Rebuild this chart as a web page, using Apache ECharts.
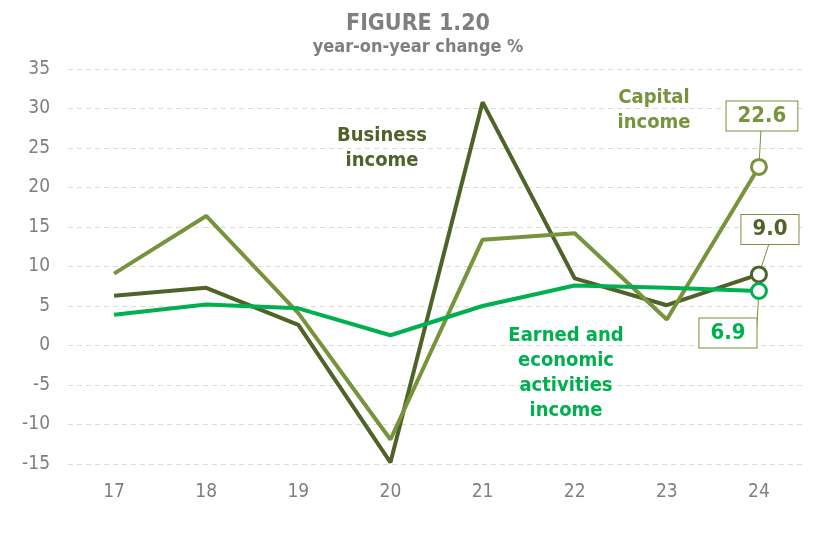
<!DOCTYPE html>
<html>
<head>
<meta charset="utf-8">
<script src="https://cdn.jsdelivr.net/npm/echarts@6/dist/echarts.min.js"></script>
<style>html,body{margin:0;padding:0;background:#fff;}#c{width:836px;height:540px;}</style>
</head>
<body>
<div id="c"></div>
<script>
var categories = ['17','18','19','20','21','22','23','24'];
var business = [6.3, 7.3, 2.6, -14.8, 30.8, 8.5, 5.1, 9.0];
var capital = [9.1, 16.4, 4.1, -11.9, 13.4, 14.2, 3.3, 22.6];
var earned = [3.9, 5.2, 4.7, 1.3, 5.0, 7.6, 7.3, 6.9];
var yTicks = [-15, -10, -5, 0, 5, 10, 15, 20, 25, 30, 35];

var FONT = "'DejaVu Sans Condensed', 'DejaVu Sans', sans-serif";
var cBus = '#4f6228', cCap = '#77933c', cEarn = '#00b050', gray = '#7f7f7f';

function lastLabel(arr, color, dx, dy) {
  return arr.map(function (v, i) {
    if (i !== arr.length - 1) return v;
    return {
      value: v,
      symbol: 'circle',
      symbolSize: 15,
      itemStyle: { color: '#fff', borderColor: color, borderWidth: 3 },
      label: {
        show: true,
        formatter: function (p) { return p.value.toFixed(1); },
        fontFamily: FONT, fontWeight: 'bold', fontSize: 22, color: color,
        backgroundColor: '#fff', borderColor: cCap, borderWidth: 1,
        padding: [4, 11, 3, 11], position: 'inside', offset: [dx, dy]
      },
      labelLine: { show: true, lineStyle: { color: cCap, width: 1 } }
    };
  });
}

function mkSeries(name, arr, color, dx, dy) {
  return {
    name: name, type: 'line', data: lastLabel(arr, color, dx, dy),
    symbol: 'none', showSymbol: true,
    lineStyle: { color: color, width: 4 },
    itemStyle: { color: color },
    animation: false, z: 3
  };
}

function note(text, cx, top, color) {
  return { type: 'text', x: cx, y: top, z: 10,
    style: { text: text, fontFamily: FONT, fontWeight: 'bold', fontSize: 20, lineHeight: 25,
             fill: color, textAlign: 'center', textVerticalAlign: 'top' } };
}

var chart = echarts.init(document.getElementById('c'));
chart.setOption({
  animation: false,
  title: {
    text: 'FIGURE 1.20', subtext: 'year-on-year change %',
    left: 'center', top: 8, itemGap: 2,
    textStyle: { fontFamily: FONT, fontWeight: 'bold', fontSize: 23, color: gray },
    subtextStyle: { fontFamily: FONT, fontWeight: 'bold', fontSize: 18, color: gray }
  },
  grid: { left: 68, right: 31, top: 69, bottom: 76 },
  xAxis: {
    type: 'category', data: categories, boundaryGap: true,
    axisLine: { show: false }, axisTick: { show: false },
    axisLabel: { color: gray, fontFamily: FONT, fontSize: 19, margin: 19 }
  },
  yAxis: {
    type: 'value', min: yTicks[0], max: yTicks[yTicks.length - 1], interval: 5,
    axisLine: { show: false }, axisTick: { show: false },
    axisLabel: { color: gray, fontFamily: FONT, fontSize: 19, margin: 18 },
    splitLine: { lineStyle: { color: '#dcdcd4', type: [5, 4], width: 1 } }
  },
  series: [
    mkSeries('Business income', business, cBus, 11, -45),
    mkSeries('Capital income', capital, cCap, 3, -51),
    mkSeries('Earned and economic activities income', earned, cEarn, -31, 42)
  ],
  graphic: [
    note('Business\nincome', 382, 123, cBus),
    note('Capital\nincome', 654, 85, cCap),
    note('Earned and\neconomic\nactivities\nincome', 566, 323, cEarn)
  ]
});
</script>
</body>
</html>
